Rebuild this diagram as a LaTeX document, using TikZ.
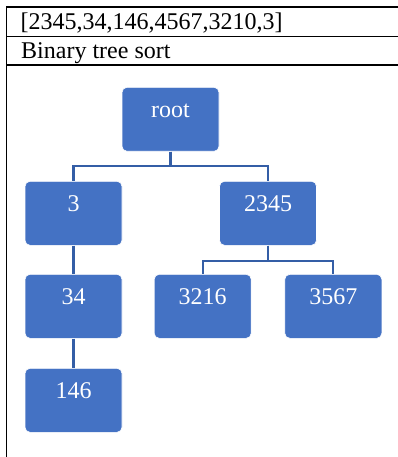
\documentclass[tikz,border=0pt]{standalone}
\usepackage{fontspec}
\setmainfont{Liberation Serif}
\definecolor{boxblue}{RGB}{68,114,196}
\definecolor{linkblue}{RGB}{52,94,166}
\begin{document}
\begin{tikzpicture}[x=1pt,y=-1pt,
  tbl/.style={line width=1.4pt,black},
  tnode/.style={rectangle,rounded corners=5pt,fill=boxblue,draw=white,line width=0.6pt,
    text=white,font=\fontsize{24}{28}\selectfont,minimum width=97pt,
    text height=17pt,text depth=21pt,inner ysep=13pt,inner xsep=0pt,anchor=north},
  link/.style={linkblue,line width=2.2pt},
  hdr/.style={anchor=base west,inner sep=0pt,font=\fontsize{24}{28}\selectfont}]
\useasboundingbox (0,0) rectangle (398,457);
% table
\draw[tbl] (6.7,457) -- (6.7,7);
\draw[tbl] (6,7) -- (398,7);
\draw[tbl] (6,36.5) -- (398,36.5);
\draw[tbl] (6,65) -- (398,65);
\node[hdr] (title) at (20.5,29.5) {[2345,34,146,4567,3210,3]};
\node[hdr] (sub) at (21,58.5) {Binary tree sort};
% tree nodes
\node[tnode] (root) at (170.5,87) {root};
\node[tnode] (n3) at (73.5,181) {3};
\node[tnode] (n2345) at (268,181) {2345};
\node[tnode] (n34) at (73.5,274) {34};
\node[tnode] (n3216) at (202.7,274) {3216};
\node[tnode] (n3567) at (333.3,274) {3567};
\node[tnode] (n146) at (73.5,368) {146};
% connectors
\draw[link] (root.south) -- ++(0,14) -| (n3.north);
\draw[link] (root.south) -- ++(0,14) -| (n2345.north);
\draw[link] (n2345.south) -- ++(0,15) -| (n3216.north);
\draw[link] (n2345.south) -- ++(0,15) -| (n3567.north);
\draw[link] (n3.south) -- (n34.north);
\draw[link] (n34.south) -- (n146.north);
\end{tikzpicture}
\end{document}
